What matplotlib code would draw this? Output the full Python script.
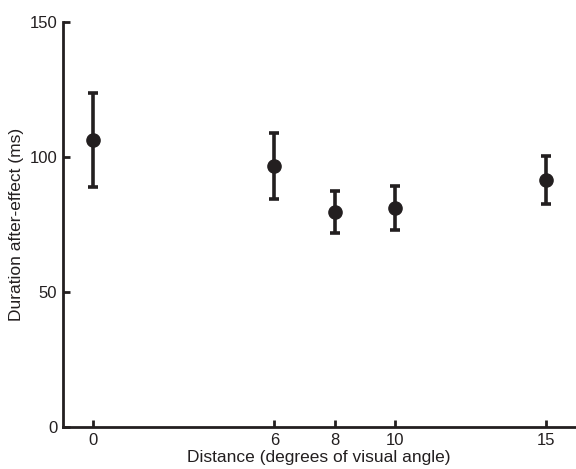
import numpy as np
import matplotlib
matplotlib.use("Agg")
import matplotlib.pyplot as plt

plt.rcParams['font.family'] = ['Liberation Sans', 'DejaVu Sans']

# ---------- DATA -----------------------------------------------------------
distance = [0, 6, 8, 10, 15]
duration = [106.4, 96.7, 79.5, 81.2, 91.5]
err_low = [17.6, 12.1, 7.6, 8.4, 8.8]
err_high = [17.2, 12.3, 7.8, 8.2, 8.9]

x_ticks = [0, 6, 8, 10, 15]
y_ticks = [0, 50, 100, 150]

INK = '#231f20'

# ---------------------------------------------------------------------------
fig = plt.figure(figsize=(5.76, 4.69), dpi=100)
ax = fig.add_axes([0.109, 0.0896, 0.889, 0.8634])

ax.errorbar(distance, duration, yerr=[err_low, err_high], fmt='o',
            color=INK, ecolor=INK, markersize=9.5, elinewidth=2.6,
            capsize=3.8, capthick=2.6)

ax.set_xlim(-1, 15.95)
ax.set_ylim(0, 150)
ax.set_xticks(x_ticks)
ax.set_yticks(y_ticks)

for side in ['top', 'right']:
    ax.spines[side].set_visible(False)
for side in ['left', 'bottom']:
    ax.spines[side].set_linewidth(2.0)
    ax.spines[side].set_color(INK)

ax.tick_params(direction='in', length=5, width=2.0, color=INK,
               labelsize=12, labelcolor=INK, pad=4)

ax.set_xlabel("Distance (degrees of visual angle)", fontsize=12.5, color=INK, labelpad=2)
ax.set_ylabel("Duration after-effect (ms)", fontsize=12.5, color=INK, labelpad=4)

fig.savefig("out.png", dpi=100)
